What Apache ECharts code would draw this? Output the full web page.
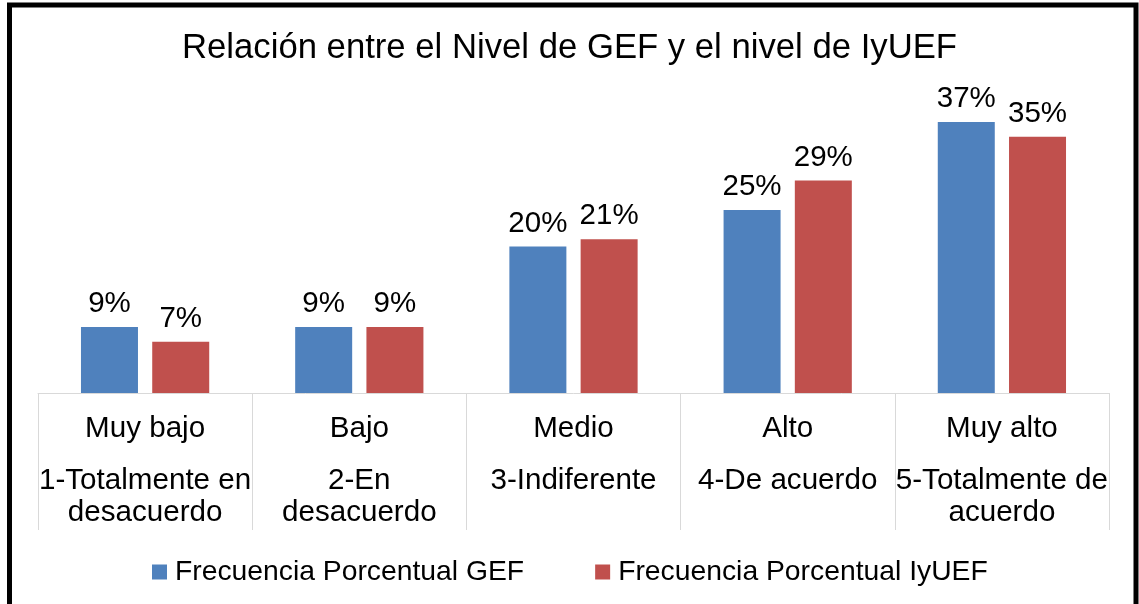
<!DOCTYPE html>
<html>
<head>
    <meta charset="utf-8" />
    <title></title>
    <script src="https://cdn.jsdelivr.net/npm/echarts@6/dist/echarts.min.js"></script>
    <style>
        html, body {
            width: 100%;
            height: 100%;
            margin: 0px;
            padding: 0px;
            background: #fff;
        }
        #main {
            width: 1139px;
            height: 604px;
        }
    </style>
</head>
<body>
    <div id="main"></div>
<script type="text/javascript">
    var niveles = ['Muy bajo', 'Bajo', 'Medio', 'Alto', 'Muy alto'];
    var escala = ['1-Totalmente en\ndesacuerdo', '2-En\ndesacuerdo', '3-Indiferente', '4-De acuerdo', '5-Totalmente de\nacuerdo'];
    var gef = [9, 9, 20, 25, 37];
    var iyuef = [7, 9, 21, 29, 35];

    var FONT = '"Liberation Sans", Arial, sans-serif';
    var myChart = echarts.init(document.getElementById('main'));

    myChart.setOption({
        animation: false,
        backgroundColor: '#fff',
        textStyle: { fontFamily: FONT, color: '#000' },
        title: {
            text: 'Relación entre el Nivel de GEF y el nivel de IyUEF',
            left: 'center',
            top: 26,
            textStyle: { fontFamily: FONT, fontSize: 34.7, fontWeight: 'normal', color: '#000' }
        },
        // marco negro alrededor del grafico
        graphic: [{
            type: 'rect',
            silent: true,
            shape: { x: 9.5, y: 5, width: 1126.5, height: 620 },
            style: { fill: null, stroke: '#000', lineWidth: 5 }
        }],
        legend: {
            left: 147,
            top: 553,
            icon: 'rect',
            itemWidth: 15,
            itemHeight: 15,
            itemGap: 71,
            textStyle: { fontFamily: FONT, fontSize: 28.3, color: '#000', padding: [0, 0, 0, 3] },
            data: ['Frecuencia Porcentual GEF', 'Frecuencia Porcentual IyUEF']
        },
        grid: { left: 38, right: 30, top: 100, bottom: 211 },
        xAxis: {
            type: 'category',
            data: niveles,
            axisLine: { lineStyle: { color: '#d9d9d9', width: 1 } },
            axisTick: { show: true, interval: 0, length: 137, lineStyle: { color: '#d9d9d9', width: 1 } },
            axisLabel: {
                interval: 0,
                margin: -1,
                formatter: function (value, i) {
                    var lines = escala[i].split('\n').map(function (s) { return '{b|' + s + '}'; });
                    return '{a|' + value + '}\n' + lines.join('\n');
                },
                rich: {
                    a: { fontFamily: FONT, fontSize: 29.6, color: '#000', lineHeight: 73 },
                    b: { fontFamily: FONT, fontSize: 29.6, color: '#000', lineHeight: 32 }
                }
            }
        },
        yAxis: {
            type: 'value',
            show: false,
            min: 0,
            max: 40,
            splitLine: { show: false }
        },
        series: [{
            name: 'Frecuencia Porcentual GEF',
            type: 'bar',
            barWidth: 57,
            barGap: '25%',
            itemStyle: { color: '#4F81BD' },
            label: { show: true, position: 'top', distance: 8, formatter: '{c}%', fontFamily: FONT, fontSize: 29.5, color: '#000' },
            data: gef
        }, {
            name: 'Frecuencia Porcentual IyUEF',
            type: 'bar',
            barWidth: 57,
            barGap: '25%',
            itemStyle: { color: '#C0504D' },
            label: { show: true, position: 'top', distance: 8, formatter: '{c}%', fontFamily: FONT, fontSize: 29.5, color: '#000' },
            data: iyuef
        }]
    });
</script>
</body>
</html>
